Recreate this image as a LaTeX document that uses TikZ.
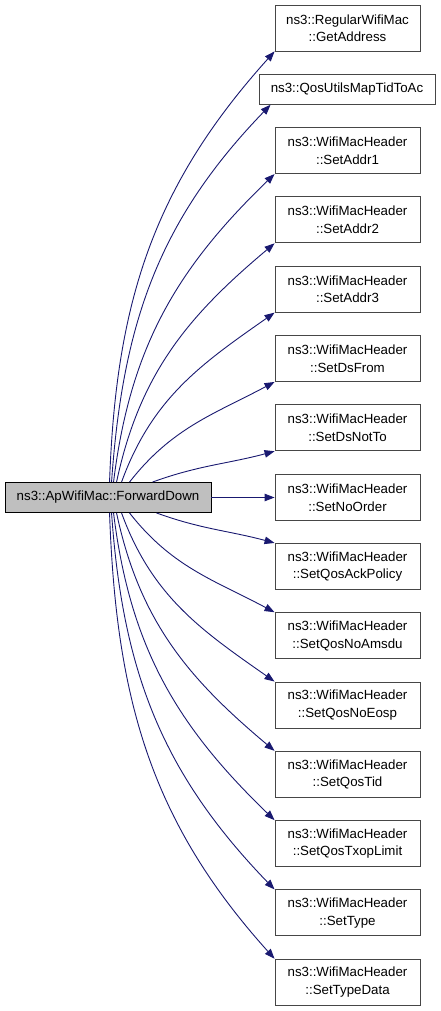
\documentclass[tikz,border=0pt]{standalone}
\usepackage{fontspec}
\setmainfont{Liberation Sans}
\usetikzlibrary{arrows.meta, positioning}

\definecolor{edgeblue}{RGB}{25,25,112}
\definecolor{rootgray}{RGB}{191,191,191}
\definecolor{framegray}{RGB}{70,70,70}

\begin{document}
\begin{tikzpicture}[x=1pt, y=-1pt,
        callee/.style={draw=framegray, fill=white, line width=0.9pt, align=center, inner sep=0pt,
            minimum width=145pt, minimum height=46pt, font=\fontsize{13.3}{17.5}\selectfont},
        caller/.style={draw=black, fill=rootgray, line width=0.9pt, inner sep=0pt,
            minimum width=206pt, minimum height=30pt, font=\fontsize{13.3}{17.5}\selectfont},
        call/.style={draw=edgeblue, line width=0.9pt, -{Triangle[length=10pt, width=7.5pt]}}]
        \useasboundingbox (0,0) rectangle (440,1011);

        % Node for the calling function
        \node[caller] (fwd) at (108,497.5) {ns3::ApWifiMac::ForwardDown};

        % Nodes for the called functions
        \node[callee] (addr) at (347.5,28) {ns3::RegularWifiMac\\::GetAddress};
        \node[callee, minimum width=176pt, minimum height=30pt] (tidac) at (347,89.3) {ns3::QosUtilsMapTidToAc};
        \node[callee] (addr1) at (347.5,150.6) {ns3::WifiMacHeader\\::SetAddr1};
        \node[callee] (addr2) at (347.5,219.9) {ns3::WifiMacHeader\\::SetAddr2};
        \node[callee] (addr3) at (347.5,289.2) {ns3::WifiMacHeader\\::SetAddr3};
        \node[callee] (dsfrom) at (347.5,358.5) {ns3::WifiMacHeader\\::SetDsFrom};
        \node[callee] (dsnotto) at (347.5,427.8) {ns3::WifiMacHeader\\::SetDsNotTo};
        \node[callee] (noorder) at (347.5,497.5) {ns3::WifiMacHeader\\::SetNoOrder};
        \node[callee] (ackpol) at (347.5,566.4) {ns3::WifiMacHeader\\::SetQosAckPolicy};
        \node[callee] (noamsdu) at (347.5,635.7) {ns3::WifiMacHeader\\::SetQosNoAmsdu};
        \node[callee] (noeosp) at (347.5,705) {ns3::WifiMacHeader\\::SetQosNoEosp};
        \node[callee] (qostid) at (347.5,774.3) {ns3::WifiMacHeader\\::SetQosTid};
        \node[callee] (txop) at (347.5,843.6) {ns3::WifiMacHeader\\::SetQosTxopLimit};
        \node[callee] (settype) at (347.5,912.9) {ns3::WifiMacHeader\\::SetType};
        \node[callee] (typedata) at (347.5,982.2) {ns3::WifiMacHeader\\::SetTypeData};

        % Calls going up
        \draw[call] ([xshift=105pt]fwd.north west) to[out=88, in=228] (addr.south west);
        \draw[call] ([xshift=107pt]fwd.north west) to[out=86, in=226] ([xshift=12pt]tidac.south west);
        \draw[call] ([xshift=109pt]fwd.north west) to[out=83, in=224] (addr1.south west);
        \draw[call] ([xshift=112pt]fwd.north west) to[out=78, in=220] (addr2.south west);
        \draw[call] ([xshift=117pt]fwd.north west) to[out=70, in=215] (addr3.south west);
        \draw[call] ([xshift=125pt]fwd.north west) to[out=52, in=208] (dsfrom.south west);
        \draw[call] ([xshift=148pt]fwd.north west) to[out=20, in=195] (dsnotto.south west);

        % Straight call
        \draw[call] (fwd) -- (noorder);

        % Calls going down
        \draw[call] ([xshift=152pt]fwd.south west) to[out=-20, in=165] (ackpol.north west);
        \draw[call] ([xshift=125pt]fwd.south west) to[out=-52, in=152] (noamsdu.north west);
        \draw[call] ([xshift=117pt]fwd.south west) to[out=-70, in=145] (noeosp.north west);
        \draw[call] ([xshift=112pt]fwd.south west) to[out=-78, in=140] (qostid.north west);
        \draw[call] ([xshift=109pt]fwd.south west) to[out=-83, in=136] (txop.north west);
        \draw[call] ([xshift=107pt]fwd.south west) to[out=-86, in=134] (settype.north west);
        \draw[call] ([xshift=105pt]fwd.south west) to[out=-88, in=132] (typedata.north west);
    \end{tikzpicture}
\end{document}
